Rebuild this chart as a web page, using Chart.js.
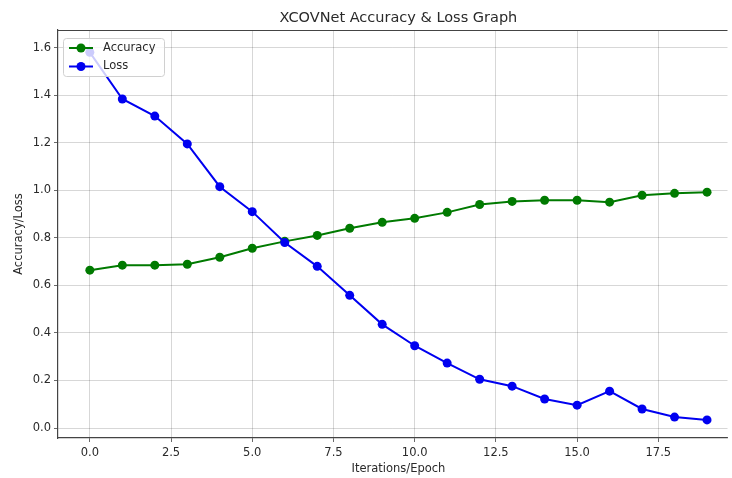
<!DOCTYPE html>
<html>
<head>
<meta charset="utf-8">
<script src="https://cdn.jsdelivr.net/npm/chart.js@4/dist/chart.umd.min.js"></script>
<style>
  body { margin: 0; background: #fff; }
  #wrap { width: 732px; height: 478px; position: relative; }
</style>
</head>
<body>
<div id="wrap"><canvas id="lossChart"></canvas></div>
<script>
// values
const epochs = [0, 1, 2, 3, 4, 5, 6, 7, 8, 9, 10, 11, 12, 13, 14, 15, 16, 17, 18, 19];
const accuracy = [0.664, 0.685, 0.685, 0.689, 0.718, 0.756, 0.785, 0.81, 0.84, 0.865,
                  0.882, 0.907, 0.94, 0.953, 0.958, 0.958, 0.95, 0.979, 0.987, 0.992];
const loss = [1.58, 1.384, 1.312, 1.195, 1.015, 0.91, 0.78, 0.68, 0.558, 0.436,
              0.346, 0.273, 0.205, 0.176, 0.122, 0.096, 0.155, 0.08, 0.046, 0.034];
const xTicks = [0, 2.5, 5, 7.5, 10, 12.5, 15, 17.5];
const yTicks = [0, 0.2, 0.4, 0.6, 0.8, 1.0, 1.2, 1.4, 1.6];
const chartTitle = 'XCOVNet Accuracy & Loss Graph';
const xLabel = 'Iterations/Epoch';

const FONT = "'DejaVu Sans', sans-serif";
const TEXT = '#2a2a2a';

// Draws the top spine, the titles and a matplotlib-style legend inside the plot
const extras = {
    id: 'extras',
    afterDraw(chart) {
        const ctx = chart.ctx;
        const area = chart.chartArea;
        // the axes run past the right edge of the picture, so centre on the full range
        const midX = chart.scales.x.getPixelForValue(9.5);
        ctx.save();

        // top frame line
        ctx.strokeStyle = '#444';
        ctx.lineWidth = 1.2;
        ctx.beginPath();
        ctx.moveTo(area.left, area.top + 0.5);
        ctx.lineTo(area.right, area.top + 0.5);
        ctx.stroke();

        ctx.fillStyle = TEXT;
        ctx.textAlign = 'center';
        ctx.textBaseline = 'middle';
        ctx.font = '14.5px ' + FONT;
        ctx.fillText(chartTitle, midX, 18);
        ctx.font = '11.5px ' + FONT;
        ctx.fillText(xLabel, midX, 469);

        // legend box
        ctx.fillStyle = 'rgba(255,255,255,0.8)';
        ctx.strokeStyle = '#d0d0d0';
        ctx.lineWidth = 1;
        ctx.beginPath();
        ctx.roundRect(63.5, 38.5, 101, 38, 3);
        ctx.fill();
        ctx.stroke();

        chart.data.datasets.forEach((ds, i) => {
            const y = 48 + i * 18.5;
            ctx.strokeStyle = ds.borderColor;
            ctx.lineWidth = 2;
            ctx.beginPath();
            ctx.moveTo(69, y);
            ctx.lineTo(93, y);
            ctx.stroke();
            ctx.fillStyle = ds.backgroundColor;
            ctx.beginPath();
            ctx.arc(81, y, 4.5, 0, Math.PI * 2);
            ctx.fill();
            ctx.fillStyle = TEXT;
            ctx.font = '11.5px ' + FONT;
            ctx.textAlign = 'left';
            ctx.fillText(ds.label, 103, y);
        });
        ctx.restore();
    }
};

function toPoints(values) {
    return values.map((v, i) => ({ x: epochs[i], y: v }));
}

new Chart(document.getElementById('lossChart'), {
    type: 'line',
    data: {
        datasets: [
            {
                label: 'Accuracy',
                data: toPoints(accuracy),
                borderColor: '#007a00',
                backgroundColor: '#007a00',
                borderWidth: 2,
                pointRadius: 4.5,
                pointBorderWidth: 0,
                tension: 0,
                order: 1
            },
            {
                label: 'Loss',
                data: toPoints(loss),
                borderColor: '#0000f0',
                backgroundColor: '#0000f0',
                borderWidth: 2,
                pointRadius: 4.5,
                pointBorderWidth: 0,
                tension: 0,
                order: 0
            }
        ]
    },
    options: {
        responsive: true,
        maintainAspectRatio: false,
        animation: false,
        layout: { padding: { top: 30, left: 0, right: 0, bottom: 0 } },
        plugins: {
            legend: { display: false },
            title: { display: false },
            tooltip: { enabled: false }
        },
        scales: {
            x: {
                type: 'linear',
                min: -0.98,
                max: 19.63,
                afterBuildTicks: scale => { scale.ticks = xTicks.map(v => ({ value: v })); },
                afterFit: scale => { scale.height = 40; },
                ticks: {
                    color: TEXT,
                    font: { family: FONT, size: 11.5 },
                    padding: 4,
                    maxRotation: 0,
                    callback: v => Number(v).toFixed(1)
                },
                grid: { color: 'rgba(0,0,0,0.2)', lineWidth: 0.8, tickLength: 4, tickColor: '#444' },
                border: { display: true, color: '#444', width: 1.2 }
            },
            y: {
                type: 'linear',
                min: -0.042,
                max: 1.674,
                afterBuildTicks: scale => { scale.ticks = yTicks.map(v => ({ value: v })); },
                afterFit: scale => { scale.width = 58; },
                ticks: {
                    color: TEXT,
                    font: { family: FONT, size: 11.5 },
                    padding: 3,
                    callback: v => Number(v).toFixed(1)
                },
                grid: { color: 'rgba(0,0,0,0.2)', lineWidth: 0.8, tickLength: 4, tickColor: '#444' },
                border: { display: true, color: '#444', width: 1.2 },
                title: {
                    display: true,
                    text: 'Accuracy/Loss',
                    color: TEXT,
                    font: { family: FONT, size: 11.5 },
                    padding: { top: 12, bottom: 0 }
                }
            }
        }
    },
    plugins: [extras]
});
</script>
</body>
</html>
